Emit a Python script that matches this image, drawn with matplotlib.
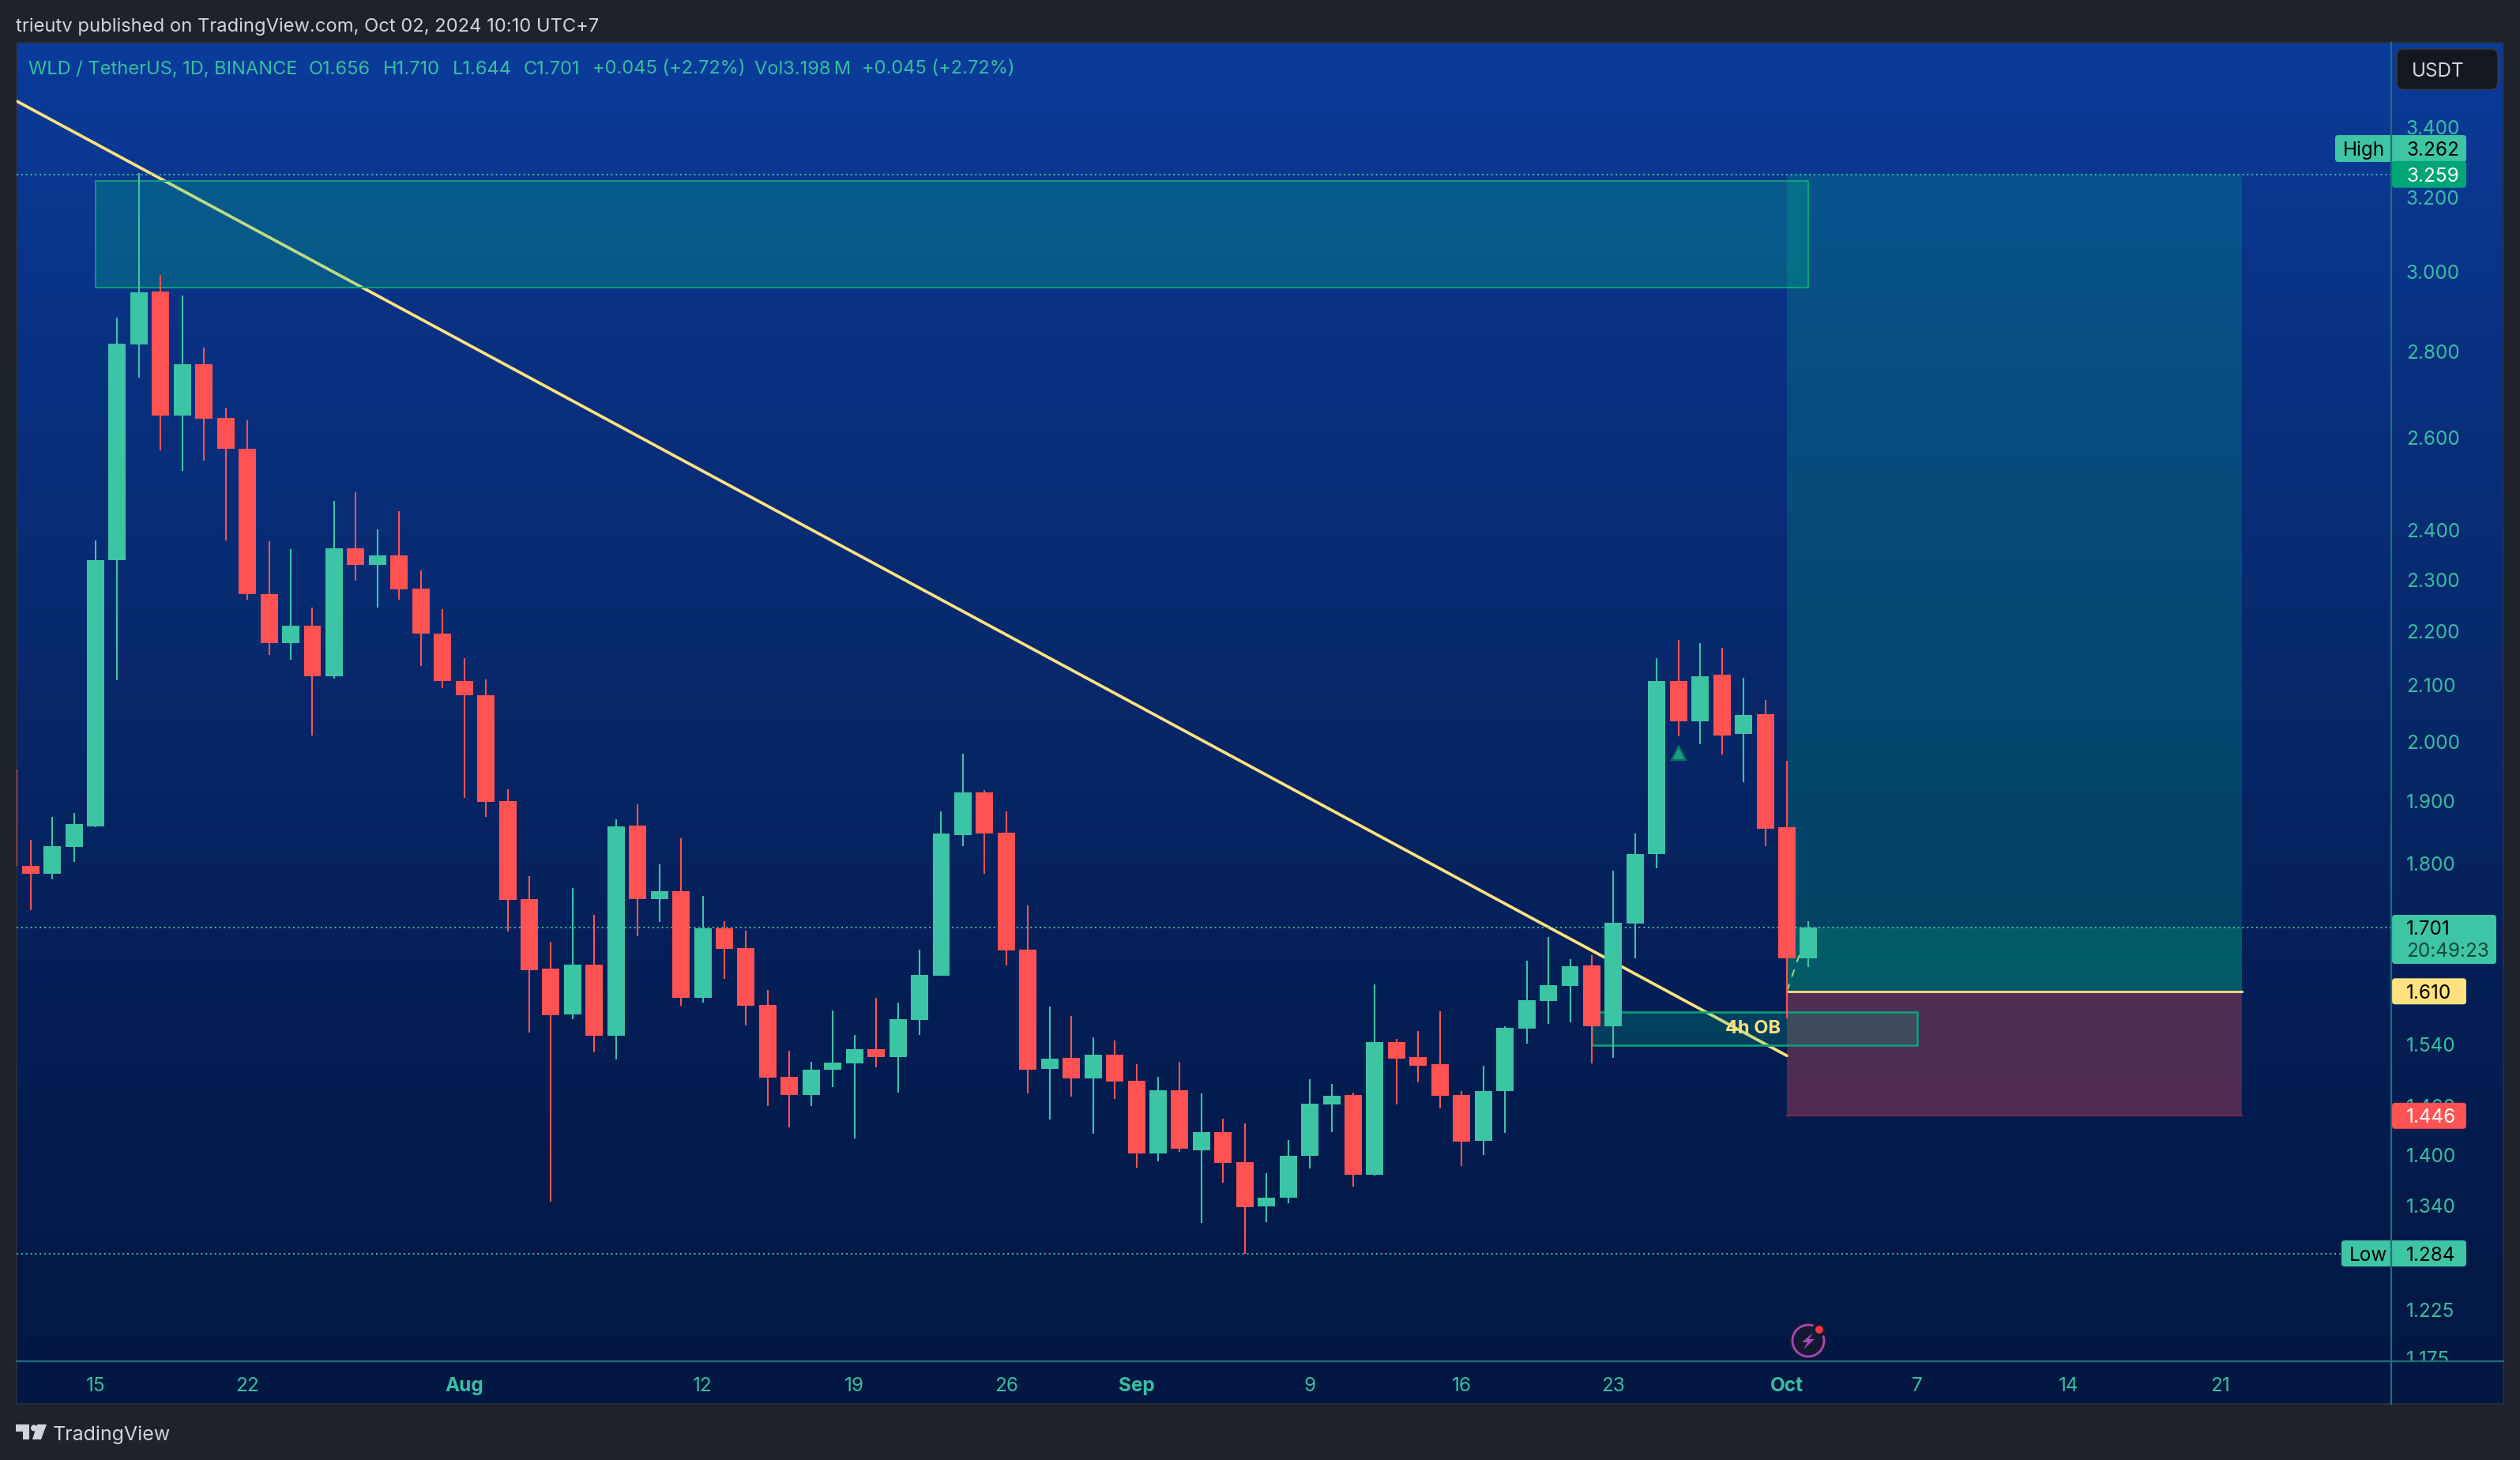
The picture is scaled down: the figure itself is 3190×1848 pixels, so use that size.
#!/usr/bin/env python3
import numpy as np
import matplotlib
matplotlib.use('Agg')
import matplotlib.pyplot as plt
from matplotlib.colors import LinearSegmentedColormap
from matplotlib.lines import Line2D
from matplotlib.patches import Circle, FancyBboxPatch, Polygon
from matplotlib.transforms import Bbox, ScaledTranslation

plt.rcParams['font.family'] = ['Inter', 'DejaVu Sans']

# daily candles, day 0 = Jul 15
days = list(range(-4, 80))
opens = [1.950, 1.794, 1.782, 1.824, 1.857, 2.336, 2.814, 2.946, 2.647, 2.767, 2.642, 2.572,
         2.269, 2.175, 2.208, 2.113, 2.360, 2.327, 2.345, 2.280, 2.192, 2.105, 2.079, 1.897,
         1.744, 1.642, 1.578, 1.648, 1.549, 1.858, 1.744, 1.756, 1.601, 1.700, 1.671, 1.591,
         1.495, 1.472, 1.505, 1.513, 1.532, 1.521, 1.571, 1.632, 1.843, 1.912, 1.846, 1.669,
         1.506, 1.520, 1.493, 1.524, 1.490, 1.400, 1.478, 1.404, 1.426, 1.389, 1.337, 1.347,
         1.397, 1.460, 1.472, 1.374, 1.541, 1.521, 1.512, 1.472, 1.415, 1.477, 1.559, 1.597,
         1.618, 1.646, 1.562, 1.707, 1.812, 2.105, 2.032, 2.116, 2.010, 2.045, 1.855, 1.656]
highs = [1.950, 1.835, 1.871, 1.878, 2.376, 2.880, 3.262, 2.988, 2.936, 2.806, 2.665, 2.636,
         2.375, 2.358, 2.243, 2.459, 2.477, 2.399, 2.437, 2.316, 2.240, 2.146, 2.108, 1.917,
         1.778, 1.680, 1.760, 1.720, 1.868, 1.892, 1.796, 1.838, 1.748, 1.710, 1.697, 1.612,
         1.530, 1.515, 1.584, 1.550, 1.601, 1.594, 1.669, 1.880, 1.977, 1.916, 1.881, 1.734,
         1.589, 1.576, 1.547, 1.543, 1.512, 1.495, 1.515, 1.474, 1.442, 1.436, 1.376, 1.416,
         1.492, 1.486, 1.475, 1.620, 1.545, 1.556, 1.583, 1.477, 1.510, 1.562, 1.653, 1.687,
         1.655, 1.661, 1.787, 1.845, 2.146, 2.181, 2.174, 2.165, 2.111, 2.071, 1.965, 1.710]
lows = [1.794, 1.727, 1.773, 1.800, 1.855, 2.106, 2.734, 2.568, 2.523, 2.546, 2.376, 2.257,
        2.152, 2.143, 2.008, 2.109, 2.295, 2.243, 2.258, 2.132, 2.092, 1.903, 1.872, 1.695,
        1.554, 1.343, 1.572, 1.527, 1.518, 1.689, 1.709, 1.590, 1.594, 1.627, 1.563, 1.458,
        1.432, 1.458, 1.482, 1.418, 1.508, 1.475, 1.550, 1.632, 1.825, 1.782, 1.646, 1.474,
        1.441, 1.470, 1.424, 1.467, 1.383, 1.390, 1.402, 1.318, 1.365, 1.284, 1.319, 1.341,
        1.382, 1.426, 1.360, 1.373, 1.460, 1.488, 1.455, 1.385, 1.398, 1.425, 1.539, 1.565,
        1.567, 1.513, 1.520, 1.657, 1.791, 2.007, 1.993, 1.975, 1.929, 1.825, 1.573, 1.644]
closes = [1.794, 1.782, 1.825, 1.860, 2.336, 2.816, 2.944, 2.647, 2.767, 2.640, 2.571, 2.268,
          2.175, 2.208, 2.113, 2.360, 2.327, 2.345, 2.278, 2.192, 2.104, 2.079, 1.896, 1.742,
          1.640, 1.577, 1.648, 1.549, 1.857, 1.744, 1.755, 1.601, 1.700, 1.670, 1.590, 1.494,
          1.472, 1.505, 1.514, 1.532, 1.521, 1.572, 1.633, 1.845, 1.912, 1.845, 1.668, 1.505,
          1.519, 1.493, 1.524, 1.489, 1.400, 1.478, 1.405, 1.426, 1.388, 1.336, 1.347, 1.397,
          1.461, 1.471, 1.374, 1.541, 1.519, 1.510, 1.471, 1.414, 1.477, 1.560, 1.598, 1.619,
          1.645, 1.562, 1.708, 1.812, 2.105, 2.032, 2.113, 2.008, 2.044, 1.853, 1.656, 1.701]

price_ticks = [3.400, 3.200, 3.000, 2.800, 2.600, 2.400, 2.300, 2.200, 2.100, 2.000, 1.900,
               1.800, 1.620, 1.540, 1.460, 1.400, 1.340, 1.225, 1.175]
date_ticks = [0, 7, 17, 28, 35, 42, 48, 56, 63, 70, 78, 84, 91, 98]
date_labels = ['15', '22', 'Aug', '12', '19', '26', 'Sep', '9', '16', '23', 'Oct', '7', '14', '21']
month_labels = ['Aug', 'Sep', 'Oct']

high_level, low_level, last_close = 3.259, 1.284, 1.701
entry, stop = 1.610, 1.446
trend_days, trend_prices = [-3.64, 78], [3.472, 1.523]
path_days, path_prices = [78, 79], [1.610, 1.701]
supply_days, supply_prices = [0, 79], [2.956, 3.240]
ob_days, ob_prices = [69, 84], [1.537, 1.581]
position_days = [78, 99]
signal_day, signal_price = 73, 1.978

UP, DOWN = '#3BC5A4', '#FF5252'
TEAL_TEXT = '#38BFA0'
BORDER_GREEN = '#0A9F78'
ZONE = (0, 200 / 255, 135 / 255)
YELLOW = '#FFE27F'
AXIS_LINE = '#226F7C'
CHROME = '#1E222D'
LIGHT = '#D1D4DC'

W, H = 3190, 1848
PANE_L, PANE_R, AXIS_X = 21, 3169, 3027
PANE_T, PANE_B, AXIS_Y = 54, 1777, 1722.5


def rect(x0, y0, x1, y1):
    return [x0 / W, 1 - y1 / H, (x1 - x0) / W, (y1 - y0) / H]


fig = plt.figure(figsize=(W / 100, H / 100), dpi=100, facecolor=CHROME)

# background gradient of the pane
bg = fig.add_axes(rect(PANE_L, PANE_T, PANE_R, PANE_B), zorder=0)
cmap = LinearSegmentedColormap.from_list('pane', ['#0B3C9B', '#09307F', '#072768', '#041D52', '#021742'])
bg.imshow(np.linspace(0, 1, 512)[:, None], aspect='auto', cmap=cmap, interpolation='bilinear')
bg.set_xticks([])
bg.set_yticks([])
for s in bg.spines.values():
    s.set_color('#2A2E39')
    s.set_linewidth(1.4)

ax = fig.add_axes(rect(PANE_L, PANE_T, AXIS_X, AXIS_Y), zorder=1)
ax.patch.set_visible(False)
ax.set_yscale('log')
ax.set_xlim(-3.643, 105.87)
ax.set_ylim(1.1703, 3.6516)

ax.plot(trend_days, trend_prices, color=YELLOW, lw=2.7, zorder=1, solid_capstyle='round')
ax.plot(path_days, path_prices, color=YELLOW, lw=1.4, ls=(0, (5, 5)), zorder=1)

# zones
ax.fill_between(supply_days, *supply_prices, facecolor=ZONE + (0.25,), edgecolor=BORDER_GREEN, lw=1.4, zorder=2)
ax.fill_between(position_days, entry, high_level, facecolor=ZONE + (0.2,), lw=0, zorder=2)
ax.fill_between(position_days, entry, last_close, facecolor=ZONE + (0.2,), lw=0, zorder=2)
ax.fill_between(position_days, stop, entry, facecolor=(1, 0.32, 0.32, 0.3), lw=0, zorder=2)
ax.plot(position_days, [stop, stop], color='#7A2E45', lw=1.4, zorder=2)
ax.fill_between(ob_days, *ob_prices, facecolor=ZONE + (0.2,), edgecolor=BORDER_GREEN, lw=1.9, zorder=3)
ax.plot(position_days, [entry, entry], color=YELLOW, lw=2.0, zorder=3)

for level in (high_level, last_close, low_level):
    ax.axhline(level, color=UP, lw=1.4, ls=(0, (1, 2)), zorder=3)

# candles
o, hi, lo, c = map(np.array, (opens, highs, lows, closes))
colors = np.where(c >= o, UP, DOWN)
ax.vlines(days, lo, hi, colors=colors, lw=1.5, zorder=4)
ax.bar(days, np.abs(c - o), bottom=np.minimum(o, c), width=0.8, color=colors, lw=0, zorder=5)

ax.plot([signal_day], [signal_price], marker='^', ms=13, color='#16A085', mec='#0C6A62', mew=1.6, zorder=5)
ax.text(np.mean(ob_days) - 0.05, np.sqrt(ob_prices[0] * ob_prices[1]), '4h OB', color=YELLOW, fontsize=17,
        fontweight='bold', ha='center', va='center', zorder=6)

# axes ticks
ax.yaxis.tick_right()
ax.set_yticks(price_ticks)
ax.set_yticklabels(['%.3f' % p for p in price_ticks])
ax.minorticks_off()
ax.set_xticks(date_ticks)
ax.set_xticklabels(date_labels)
ax.tick_params(axis='y', length=0, pad=13.5, labelsize=17.5, labelcolor=TEAL_TEXT)
ax.tick_params(axis='x', length=0, pad=14.5, labelsize=17.5, labelcolor=TEAL_TEXT)
for lbl in ax.get_xticklabels():
    if lbl.get_text() in month_labels:
        lbl.set_fontweight('bold')
clip = Bbox([[AXIS_X, H - AXIS_Y], [PANE_R, H - PANE_T]])
nudge = ScaledTranslation(0, -0.02, fig.dpi_scale_trans)
for lbl in ax.get_yticklabels():
    lbl.set_transform(lbl.get_transform() + nudge)
    lbl.set_clip_box(clip)
    lbl.set_clip_on(True)
for s in ax.spines.values():
    s.set_visible(False)

# chrome drawn in figure pixels
ui = fig.add_axes([0, 0, 1, 1], zorder=5)
ui.set_xlim(0, W)
ui.set_ylim(H, 0)
ui.axis('off')
ui.patch.set_visible(False)


def price_y(p):
    return H - ax.transData.transform((0, p))[1]


def badge(x0, x1, yc, h, color, txt=None, tcolor='black', tx=3046):
    ui.add_patch(FancyBboxPatch((x0, yc - h / 2), x1 - x0, h, boxstyle='round,pad=0,rounding_size=4',
                                fc=color, ec='none', zorder=3))
    if txt:
        ui.text(tx, yc, txt, color=tcolor, fontsize=17.5, ha='left', va='center_baseline', zorder=4)


ui.text(20, 31, 'trieutv published on TradingView.com, Oct 02, 2024 10:10 UTC+7', color=LIGHT,
        fontsize=17.1, ha='left', va='center_baseline')

legend_parts = [(36, 'WLD / TetherUS, 1D, BINANCE'), (391, 'O1.656'), (485, 'H1.710'), (573, 'L1.644'),
                (663, 'C1.701'), (750, '+0.045 (+2.72%)'), (955, 'Vol3.198\u2009M'), (1091, '+0.045 (+2.72%)')]
for x, part in legend_parts:
    ui.text(x, 85, part, color=TEAL_TEXT, fontsize=17, ha='left', va='center_baseline')

ui.add_patch(FancyBboxPatch((3034, 62), 128, 51.5, boxstyle='round,pad=0,rounding_size=9',
                            fc='#131722', ec='#363A45', lw=1.2))
ui.text(3053, 88, 'USDT', color=LIGHT, fontsize=17.5, ha='left', va='center_baseline')

badge(2956, 3030, 188, 34, '#3DC5A5', 'High', tx=2966)
badge(3024, 3122, 188, 34, '#3DC5A5', '3.262')
badge(3028, 3122, price_y(high_level), 34, '#00A676', '%.3f' % high_level, 'white')
badge(3028, 3160, 1189, 62, '#3DC5A5')
ui.text(3046, price_y(last_close), '%.3f' % last_close, color='black', fontsize=17.5, ha='left',
        va='center_baseline', zorder=4)
ui.text(3046, 1202, '20:49:23', color='#14493F', fontsize=17.5, ha='left', va='center_baseline', zorder=4)
badge(3028, 3122, price_y(entry), 33, YELLOW, '%.3f' % entry)
badge(3028, 3122, price_y(stop), 33, DOWN, '%.3f' % stop, 'white')
badge(2964, 3030, price_y(low_level), 33, '#3DC5A5', 'Low', tx=2974)
badge(3024, 3122, price_y(low_level), 33, '#3DC5A5', '%.3f' % low_level)

ui.add_line(Line2D([AXIS_X, AXIS_X], [PANE_T, PANE_B], color=AXIS_LINE, lw=1.6, zorder=5))
ui.add_line(Line2D([PANE_L, PANE_R], [AXIS_Y, AXIS_Y], color=AXIS_LINE, lw=1.6, zorder=5))

# earnings style icon on the time axis
ui.add_patch(Circle((2289, 1697), 24, fc='#131A30', ec='none', zorder=3))
ui.add_patch(Circle((2289, 1697), 20, fc='none', ec='#AB47BC', lw=2, zorder=4))
ui.add_patch(Polygon([(2295, 1687), (2281, 1699), (2288, 1699), (2283, 1708), (2297, 1695), (2290, 1695)],
                     fc='#AB47BC', ec='none', zorder=4))
ui.add_patch(Circle((2303, 1683), 9, fc='#131A30', ec='none', zorder=4))
ui.add_patch(Circle((2303, 1683), 5, fc='#F23645', ec='none', zorder=5))

# TradingView logo and name
logo = [[(20, 1803), (37, 1803), (37, 1822), (29, 1822), (29, 1812), (20, 1812)],
        [(47, 1803), (59, 1803), (52, 1822), (41, 1822)]]
for pts in logo:
    ui.add_patch(Polygon(pts, fc=LIGHT, ec='none'))
ui.add_patch(Circle((43, 1807.5), 4, fc=LIGHT, ec='none'))
ui.text(67, 1814, 'TradingView', color=LIGHT, fontsize=18, ha='left', va='center_baseline')

fig.savefig('out.png', dpi=100, facecolor=CHROME)
print('Saved plot -> out.png')
